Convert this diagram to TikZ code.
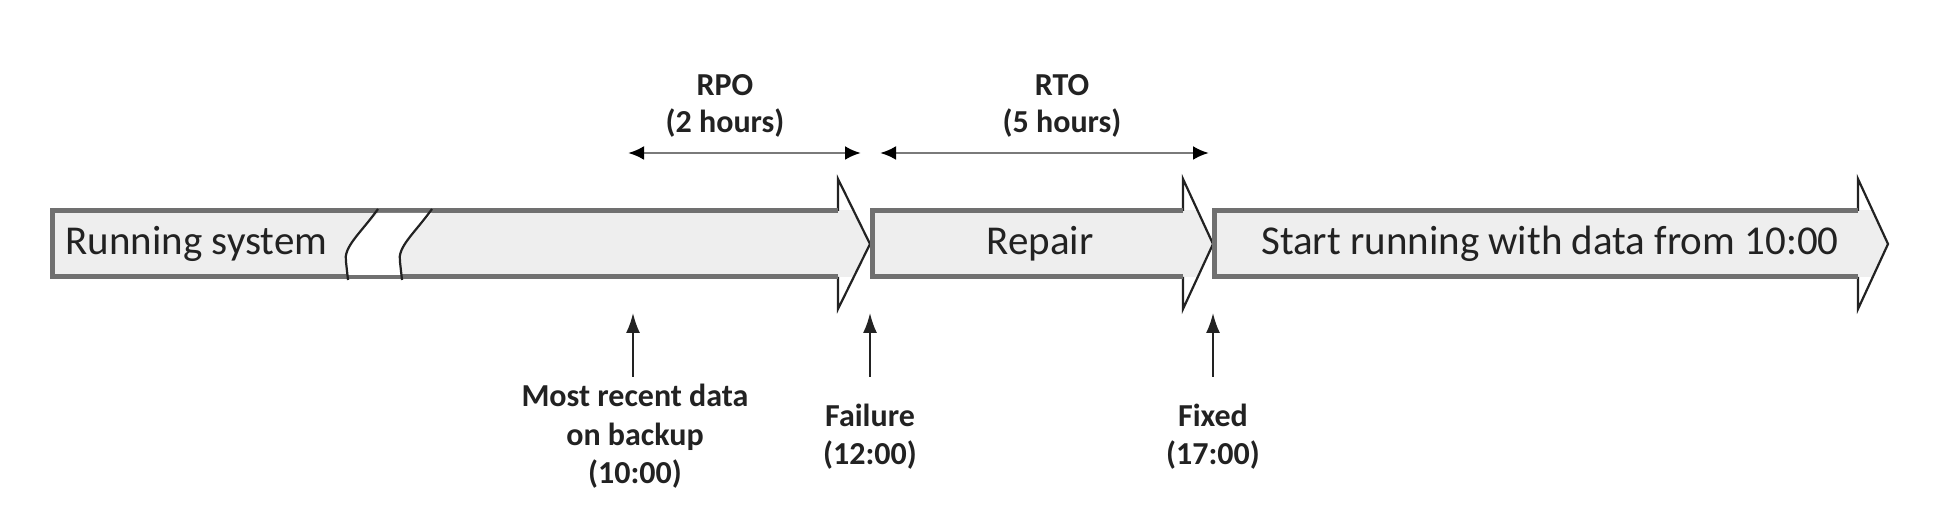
\documentclass[tikz,border=0pt]{standalone}
\usepackage{fontspec}
\setmainfont{Carlito}
\usetikzlibrary{arrows.meta}
\definecolor{edgegray}{HTML}{707070}
\definecolor{inkdark}{HTML}{222222}
\definecolor{bodyfill}{HTML}{EEEEEE}
\definecolor{spangray}{HTML}{7A7A7A}
\begin{document}
\begin{tikzpicture}[x=0.5pt,y=-0.5pt,
  mainlbl/.style={font=\fontsize{20.5}{24}\selectfont, text=inkdark, inner sep=0pt},
  smalllbl/.style={font=\fontsize{16}{19.25}\selectfont\bfseries, text=inkdark, inner sep=0pt},
  bodyedge/.style={draw=edgegray, line width=2.5pt, line join=miter},
  headedge/.style={draw=inkdark, line width=1.1pt, line join=miter},
  breakline/.style={draw=inkdark, line width=1.1pt},
  spanarrow/.style={draw=spangray, line width=1.4pt,
    {Latex[length=8pt,width=7pt,color=black]}-{Latex[length=8pt,width=7pt,color=black]}},
  markarrow/.style={draw=inkdark, line width=1pt, -{Latex[length=10pt,width=7pt]}}]
\useasboundingbox (0,0) rectangle (1958,528);
\fill[white] (0,0) rectangle (1958,528);

% the three big arrows
\foreach \L/\B/\T in {52/838/870, 872/1183/1213, 1214/1858/1888}{
  \fill[white] (\L,211) -- (\B,211) -- (\B,179) -- (\T,244) -- (\B,309) -- (\B,277) -- (\L,277) -- cycle;
  \begin{scope}
    \clip (0,211) rectangle (1958,277);
    \fill[bodyfill] (\L,211) -- (\B,211) -- (\B,179) -- (\T,244) -- (\B,309) -- (\B,277) -- (\L,277) -- cycle;
  \end{scope}
  \draw[headedge] (\B,211) -- (\B,179) -- (\T,244) -- (\B,309) -- (\B,277);
  \draw[bodyedge] (\B,211) -- (\L,211) -- (\L,277) -- (\B,277);
}

% break symbol
\fill[white] (378,213) .. controls (360,234) and (343,247) .. (346,262) -- (348,275)
  -- (402,275) -- (400,262) .. controls (397,247) and (414,234) .. (432,213) -- cycle;
\draw[breakline] (378,209) .. controls (360,234) and (343,247) .. (346,262) -- (348,280);
\draw[breakline] (432,209) .. controls (414,234) and (397,247) .. (400,262) -- (402,280);

% texts in the arrows
\node[mainlbl, anchor=base west] (running) at (65,255) {Running system};
\node[mainlbl, anchor=base] (repair) at (1040,255) {Repair};
\node[mainlbl, anchor=base] (start) at (1550,255) {Start running with data from 10:00};

% RPO / RTO spans
\coordinate (rpoL) at (628,153);
\coordinate (rpoR) at (861,153);
\coordinate (rtoL) at (880,153);
\coordinate (rtoR) at (1209,153);
\draw[spanarrow] (rpoL) -- (rpoR);
\draw[spanarrow] (rtoL) -- (rtoR);
\node[smalllbl, anchor=base] (rpo) at (725,96) {RPO};
\node[smalllbl, anchor=base] (rpoh) at (725,133) {(2 hours)};
\node[smalllbl, anchor=base] (rto) at (1062,96) {RTO};
\node[smalllbl, anchor=base] (rtoh) at (1062,133) {(5 hours)};

% event markers
\coordinate (recentFoot) at (633,377);
\coordinate (recentTip) at (633,313);
\coordinate (failFoot) at (870,377);
\coordinate (failTip) at (870,313);
\coordinate (fixFoot) at (1213,377);
\coordinate (fixTip) at (1213,313);
\draw[markarrow] (recentFoot) -- (recentTip);
\draw[markarrow] (failFoot) -- (failTip);
\draw[markarrow] (fixFoot) -- (fixTip);

\node[smalllbl, anchor=base] (recent1) at (635,407) {Most recent data};
\node[smalllbl, anchor=base] (recent2) at (635,446) {on backup};
\node[smalllbl, anchor=base] (recent3) at (635,484) {(10:00)};
\node[smalllbl, anchor=base] (fail1) at (870,427) {Failure};
\node[smalllbl, anchor=base] (fail2) at (870,465) {(12:00)};
\node[smalllbl, anchor=base] (fix1) at (1213,427) {Fixed};
\node[smalllbl, anchor=base] (fix2) at (1213,465) {(17:00)};
\end{tikzpicture}
\end{document}
